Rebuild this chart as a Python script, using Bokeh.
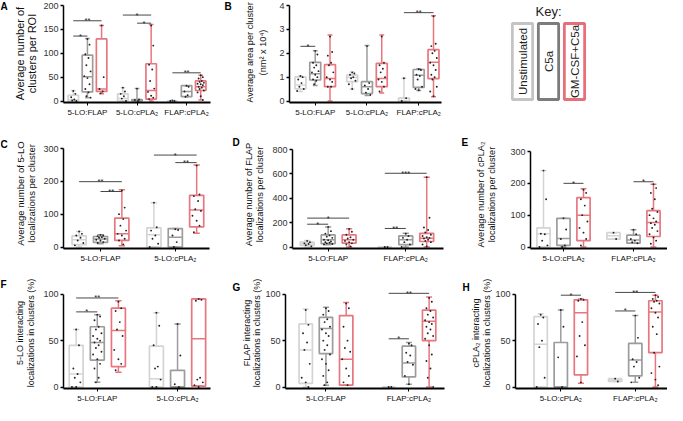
import math
from bokeh.plotting import figure
from bokeh.layouts import row, column
from bokeh.models import FixedTicker, Range1d, FactorRange
from bokeh.core.properties import value
from bokeh.embed import file_html
from bokeh.resources import INLINE

FONT = "Liberation Sans"
CONDITIONS = ["Unstimulated", "C5a", "GM-CSF+C5a"]
BOX_COLORS = ["#d4d4d4", "#9c9c9c", "#e8767f"]
KEY_COLORS = ["#c4c4c4", "#7c7c7c", "#e66f7a"]

# ---------------- Panel A : clusters per ROI ----------------
A_groups = ["5-LO:FLAP", "5-LO:cPLA₂", "FLAP:cPLA₂"]
A_lo = [0, 7, 15, 0, 0, 0, 0, 9, 2]
A_q1 = [0, 19, 20, 0, 0, 4, 0, 9, 22]
A_med = [2, 51, 25, 5, 1, 22, 0, 20, 30]
A_q3 = [12, 96, 130, 15, 3, 78, 0, 32, 42]
A_hi = [22, 131, 158, 28, 26, 160, 1, 32, 54]
A_pts = [[21, 15, 8, 3, 1, 0],
         [130, 118, 98, 90, 75, 62, 52, 48, 35, 25, 18, 10, 7],
         [158, 50, 25, 20, 16],
         [28, 20, 15, 10, 5, 0],
         [26, 3, 2, 0],
         [158, 116, 76, 66, 42, 26, 19, 11, 7, 4],
         [1, 0, 0],
         [32, 30, 20, 12, 9],
         [54, 50, 47, 42, 40, 38, 36, 35, 33, 30, 28, 25, 22, 18, 10, 2]]
A_sig = [(0, 1, 136, "*"), (0, 2, 168, "**"), (3, 5, 180, "*"), (4, 5, 163, "*"), (6, 8, 59, "**")]
A_ticks = [0, 50, 100, 150, 200]
A_title = ["Average number of", "clusters per ROI"]

# ---------------- Panel B : area per cluster ----------------
B_groups = ["5-LO:FLAP", "5-LO:cPLA₂", "FLAP:cPLA₂"]
B_lo = [0.40, 0.65, 0.0, 0.50, 0.23, 0.34, 0.0, 0.44, 0.18]
B_q1 = [0.51, 0.88, 0.60, 0.81, 0.31, 0.60, 0.0, 0.57, 0.94]
B_med = [0.67, 1.14, 0.94, 0.98, 0.60, 0.94, 0.10, 1.08, 1.62]
B_q3 = [1.01, 1.62, 1.52, 1.08, 0.81, 1.58, 0.12, 1.32, 2.15]
B_hi = [1.05, 2.10, 2.76, 1.21, 2.32, 2.76, 0.95, 1.35, 3.57]
B_pts = [[1.05, 1.0, 0.9, 0.75, 0.6, 0.5, 0.42],
         [2.1, 1.95, 1.6, 1.5, 1.4, 1.25, 1.2, 1.1, 1.0, 0.9, 0.85, 0.7],
         [2.7, 2.05, 1.9, 1.6, 1.5, 1.2, 1.0, 0.9, 0.8, 0.6, 0.6],
         [1.2, 1.15, 1.1, 1.0, 0.95, 0.85, 0.7, 0.5],
         [2.3, 0.75, 0.65, 0.5, 0.35, 0.25],
         [2.7, 1.6, 1.5, 1.35, 1.2, 1.0, 0.9, 0.8, 0.6, 0.4],
         [0.95, 0.12, 0.0],
         [1.33, 1.3, 1.1, 1.05, 0.9, 0.6, 0.5, 0.45],
         [3.55, 2.4, 2.3, 2.1, 2.0, 1.8, 1.6, 1.5, 1.3, 1.1, 1.0, 0.9, 0.6, 0.4, 0.2]]
B_sig = [(0, 1, 2.29, "*"), (6, 8, 3.7, "**")]
B_ticks = [0, 1, 2, 3, 4]
B_title = ["Average area per cluster", "(nm² x 10⁴)"]

# ---------------- Panel C : 5-LO localizations ----------------
C_groups = ["5-LO:FLAP", "5-LO:cPLA₂"]
C_lo = [0, 10, 4, 0, 0, 42]
C_q1 = [7, 14, 20, 0, 0, 61]
C_med = [22, 24, 40, 37, 30, 113]
C_q3 = [34, 32, 88, 58, 56, 157]
C_hi = [47, 37, 174, 135, 56, 250]
C_pts = [[47, 40, 35, 28, 20, 12, 5],
         [37, 35, 33, 30, 28, 25, 22, 20, 15, 12],
         [172, 120, 100, 85, 65, 50, 40, 35, 25, 20, 8],
         [135, 60, 50, 35, 25, 10, 0],
         [54, 52, 35, 15, 0],
         [248, 160, 155, 140, 115, 110, 95, 80, 65, 45]]
C_sig = [(0, 2, 199, "**"), (1, 2, 169, "**"), (3, 5, 280, "*"), (4, 5, 257, "**")]
C_ticks = [0, 100, 200, 300]
C_title = ["Average number of 5-LO", "localizations per cluster"]

# ---------------- Panel D : FLAP localizations ----------------
D_groups = ["5-LO:FLAP", "FLAP:cPLA₂"]
D_lo = [0, 19, 0, 0, 0, 0]
D_q1 = [13, 27, 32, 0, 19, 45]
D_med = [24, 59, 59, 0, 59, 72]
D_q3 = [40, 99, 99, 0, 91, 112]
D_hi = [53, 165, 149, 0, 112, 573]
D_pts = [[50, 40, 30, 25, 15, 5],
         [165, 130, 110, 95, 85, 75, 60, 55, 45, 40, 35, 30, 25, 20],
         [148, 125, 100, 80, 70, 60, 50, 40, 30, 20, 5],
         [0, 0],
         [110, 90, 75, 60, 40, 20, 0],
         [573, 240, 160, 140, 120, 100, 90, 80, 75, 70, 60, 50, 40, 20, 5]]
D_sig = [(0, 1, 187, "*"), (0, 2, 237, "*"), (3, 4, 152, "**"), (3, 5, 605, "***")]
D_ticks = [0, 200, 400, 600, 800]
D_title = ["Average number of FLAP", "localizations per cluster"]

# ---------------- Panel E : cPLA2 localizations ----------------
E_groups = ["5-LO:cPLA₂", "FLAP:cPLA₂"]
E_lo = [0, 0, 0, 25, 12, 0]
E_q1 = [0, 5, 20, 25, 12, 33]
E_med = [42, 27, 100, 35, 22, 77]
E_q3 = [60, 90, 155, 45, 37, 114]
E_hi = [240, 90, 183, 45, 54, 197]
E_pts = [[240, 150, 42, 40, 20, 5, 0],
         [90, 55, 25, 5, 0],
         [180, 170, 150, 130, 100, 80, 60, 45, 25, 5],
         [45, 25],
         [54, 40, 25, 20, 15, 12],
         [197, 185, 170, 150, 120, 110, 100, 90, 80, 75, 70, 60, 50, 40, 30, 20, 10]]
E_sig = [(1, 2, 200, "*"), (4, 5, 205, "*")]
E_ticks = [0, 100, 200, 300]
E_title = ["Average number of cPLA₂", "localizations per cluster"]

# ---------------- Panel F : 5-LO interacting (%) ----------------
F_groups = ["5-LO:FLAP", "5-LO:cPLA₂"]
F_lo = [0, 5, 16, 0, 0, 1]
F_q1 = [0, 29, 22, 0, 0, 1]
F_med = [14, 48, 61, 9, 0, 52]
F_q3 = [45, 65, 85, 44, 18, 95]
F_hi = [62, 78, 93, 80, 68, 95]
F_pts = [[62, 45, 20, 14, 10, 5, 0, 0],
         [78, 76, 72, 65, 62, 58, 55, 52, 50, 48, 45, 42, 38, 35, 30, 25, 20, 10, 5],
         [92, 85, 82, 70, 62, 55, 40, 30, 25, 18],
         [80, 66, 45, 22, 20, 8, 0, 0],
         [68, 34, 3, 0],
         [95, 94, 93, 10, 8, 5, 2, 0]]
F_sig = [(0, 1, 81, "*"), (0, 2, 96, "**")]
F_title = ["5-LO interacting", "localizations in clusters (%)"]

# ---------------- Panel G : FLAP interacting (%) ----------------
G_groups = ["5-LO:FLAP", "FLAP:cPLA₂"]
G_lo = [0, 2, 2, 0, 3, 0]
G_q1 = [4, 36, 2, 0, 11, 50]
G_med = [40, 63, 30, 0, 26, 71]
G_q3 = [68, 75, 77, 0, 44, 83]
G_hi = [84, 86, 91, 0, 48, 97]
G_pts = [[83, 67, 58, 48, 40, 25, 10, 5, 0],
         [85, 82, 78, 73, 70, 65, 62, 58, 55, 50, 45, 40, 35, 30, 25, 18, 12, 5, 2],
         [90, 85, 65, 50, 42, 38, 30, 20, 12, 5, 2],
         [0, 0],
         [47, 45, 37, 34, 27, 24, 12, 3],
         [96, 92, 85, 82, 78, 75, 72, 70, 68, 65, 62, 58, 55, 52, 45, 35, 28, 20, 10, 0]]
G_sig = [(3, 4, 52, "*"), (3, 5, 101, "**")]
G_title = ["FLAP interacting", "localizations in clusters (%)"]

# ---------------- Panel H : cPLA2 interacting (%) ----------------
H_groups = ["5-LO:cPLA₂", "FLAP:cPLA₂"]
H_lo = [0, 0, 4, 6, 5, 0]
H_q1 = [0, 0, 13, 6, 12, 37]
H_med = [46, 0, 80, 7.5, 29, 81]
H_q3 = [76, 48, 94, 9, 47, 93]
H_hi = [79, 83, 95, 9, 77, 99]
H_pts = [[78, 75, 68, 50, 43, 10, 0],
         [83, 65, 32, 0],
         [95, 94, 93, 70, 55, 45, 33, 5],
         [9, 6],
         [77, 53, 30, 27, 22, 10, 5],
         [99, 97, 95, 93, 92, 90, 85, 80, 75, 65, 57, 37, 22, 15, 8, 2]]
H_sig = [(1, 2, 99, "*"), (3, 4, 82, "*"), (3, 5, 102, "**")]
H_title = ["cPLA₂ interacting", "localizations in clusters (%)"]
PCT_ticks = [0, 50, 100]

JITTER = [0, 0.2, -0.2, 0.1, -0.1, 0.3, -0.3]
AXIS_AREA = 20   # pixels kept for y ticks + tick labels in the main plot
BP = 1.5         # pixels between the zero line and the bottom of the frame


def make_side(letter, title_lines, lay):
    """Narrow strip carrying the panel letter and the two-line rotated y title."""
    W, H, bb = lay["left"] - AXIS_AREA, lay["h"], lay["bb"]
    fh = H - bb
    s = figure(width=W, height=H, x_range=Range1d(0, W), y_range=Range1d(0, fh),
               x_axis_type=None, y_axis_type=None, output_backend="svg", title=None,
               toolbar_location=None, min_border_left=0, min_border_right=0,
               min_border_top=0, min_border_bottom=bb)
    s.xgrid.visible = False
    s.ygrid.visible = False
    s.outline_line_color = None
    lx, ly = lay["letter"]
    s.text(x=[lx], y=[fh - ly - 5.5], text=[letter], text_baseline="middle", text_align="left",
           text_font=value(FONT), text_font_style="bold", text_font_size="10px",
           text_color="black")
    yc = fh - lay["tc"]
    s.text(x=list(lay["tx"]), y=[yc, yc], text=title_lines, angle=math.pi / 2,
           text_align="center", text_baseline="middle", text_font=value(FONT),
           text_font_size=lay["lfs"], text_color="#111111")
    return s


def make_panel(groups, lo, q1, med, q3, hi, pts, sig, yticks, lay):
    W = lay["w"] - (lay["left"] - AXIS_AREA)
    H, bb = lay["h"], lay["bb"]
    top_px = lay["top"]
    zero_px = H - bb - BP
    ymax = yticks[-1]
    ppu = (zero_px - top_px) / ymax
    y0 = -BP / ppu
    y1 = ymax + top_px / ppu
    gap = lay["gap"]
    bw = lay["bw"]
    pos = [g * gap + j for g in range(len(groups)) for j in range(3)]
    p = figure(width=W, height=H, x_range=Range1d(lay["x0"], lay["x1"]),
               y_range=Range1d(y0, y1), output_backend="svg", toolbar_location=None, title=None,
               min_border_left=AXIS_AREA, min_border_right=lay["right"],
               min_border_top=0, min_border_bottom=bb)
    p.xgrid.visible = False
    p.ygrid.visible = False
    p.outline_line_color = None

    colors = [BOX_COLORS[k % 3] for k in range(len(pos))]
    cw = bw * 0.45
    lw = 1.5
    p.segment(x0=pos, x1=pos, y0=lo, y1=q1, line_color=colors, line_width=lw)
    p.segment(x0=pos, x1=pos, y0=q3, y1=hi, line_color=colors, line_width=lw)
    p.segment(x0=[x - cw / 2 for x in pos], x1=[x + cw / 2 for x in pos], y0=hi, y1=hi,
              line_color=colors, line_width=lw)
    p.segment(x0=[x - cw / 2 for x in pos], x1=[x + cw / 2 for x in pos], y0=lo, y1=lo,
              line_color=colors, line_width=lw)
    p.vbar(x=pos, width=bw, bottom=q1, top=q3, fill_alpha=0, line_color=colors, line_width=1.7)
    p.segment(x0=[x - bw / 2 for x in pos], x1=[x + bw / 2 for x in pos], y0=med, y1=med,
              line_color=colors, line_width=1.5)

    px, py = [], []
    for k, vals in enumerate(pts):
        for i, v in enumerate(vals):
            px.append(pos[k] + JITTER[i % len(JITTER)] * bw)
            py.append(v)
    p.scatter(px, py, size=1.9, fill_color="#222222", line_color=None)

    sx0 = [pos[s[0]] for s in sig]
    sx1 = [pos[s[1]] for s in sig]
    sy = [s[2] for s in sig]
    st = [s[3] for s in sig]
    p.segment(x0=sx0, x1=sx1, y0=sy, y1=sy, line_color="#333333", line_width=0.9)
    p.text(x=[(a + b) / 2 for a, b in zip(sx0, sx1)], y=sy, text=st, text_align="center",
           text_baseline="alphabetic", text_font=value(FONT), text_font_size="7.5px",
           text_color="#222222")

    ya = p.yaxis[0]
    ya.ticker = FixedTicker(ticks=yticks)
    ya.bounds = (y0, ymax)
    ya.minor_tick_line_color = None
    ya.major_tick_in = 0
    ya.major_tick_out = 3
    ya.axis_line_width = 1.5
    ya.axis_line_color = "black"
    ya.major_tick_line_width = 1.3
    ya.major_label_text_font = FONT
    ya.major_label_text_font_size = "9px"
    ya.major_label_text_color = "#333333"
    ya.major_label_standoff = 2

    centers = [g * gap + 1 for g in range(len(groups))]
    xa = p.xaxis[0]
    xa.ticker = FixedTicker(ticks=centers)
    xa.major_label_overrides = {c: name for c, name in zip(centers, groups)}
    xa.minor_tick_line_color = None
    xa.major_tick_in = 0
    xa.major_tick_out = 3
    xa.axis_line_width = 2
    xa.axis_line_color = "black"
    xa.major_label_text_font = FONT
    xa.major_label_text_font_size = "8px"
    xa.major_label_text_color = "#111111"
    xa.major_label_standoff = 2
    return p


LAY = {
    "A": dict(w=222, h=129, bb=27, left=60, right=12, top=5, gap=3.5, x0=-0.69, x1=9.69,
              bw=0.74, lfs="11px", letter=(0, 0), tx=(19, 31), tc=53),
    "B": dict(w=227, h=129, bb=27, left=67, right=8, top=5, gap=3.5, x0=-0.74, x1=9.54,
              bw=0.74, lfs="9.2px", letter=(2, 0), tx=(27, 40), tc=52),
    "C": dict(w=223, h=136, bb=17, left=60, right=14, top=19, gap=3.5, x0=-0.73, x1=6.1,
              bw=0.66, lfs="9.5px", letter=(0, 9), tx=(19.5, 30.5), tc=64),
    "D": dict(w=224, h=136, bb=17, left=66, right=4, top=20, gap=3.7, x0=-0.7, x1=6.5,
              bw=0.66, lfs="9.2px", letter=(9, 7), tx=(25, 36), tc=65),
    "E": dict(w=220, h=136, bb=17, left=80, right=0, top=22, gap=3.5, x0=-0.65, x1=6.2,
              bw=0.66, lfs="9.2px", letter=(14, 7), tx=(33, 44), tc=65),
    "F": dict(w=222, h=140, bb=16, left=60, right=12, top=29, gap=3.8, x0=-0.6, x1=6.36,
              bw=0.66, lfs="9px", letter=(0, 14), tx=(19, 30), tc=68),
    "G": dict(w=226, h=140, bb=16, left=60, right=4, top=29, gap=4.1, x0=-1.0, x1=6.86,
              bw=0.66, lfs="9px", letter=(10, 17), tx=(24, 34.5), tc=68),
    "H": dict(w=219, h=140, bb=16, left=64, right=0, top=29, gap=3.7, x0=-1.25, x1=6.3,
              bw=0.66, lfs="9px", letter=(14, 17), tx=(27, 38), tc=68),
}

sA = make_side("A", A_title, LAY["A"])
pA = make_panel(A_groups, A_lo, A_q1, A_med, A_q3, A_hi, A_pts, A_sig, A_ticks, LAY["A"])
sB = make_side("B", B_title, LAY["B"])
pB = make_panel(B_groups, B_lo, B_q1, B_med, B_q3, B_hi, B_pts, B_sig, B_ticks, LAY["B"])
sC = make_side("C", C_title, LAY["C"])
pC = make_panel(C_groups, C_lo, C_q1, C_med, C_q3, C_hi, C_pts, C_sig, C_ticks, LAY["C"])
sD = make_side("D", D_title, LAY["D"])
pD = make_panel(D_groups, D_lo, D_q1, D_med, D_q3, D_hi, D_pts, D_sig, D_ticks, LAY["D"])
sE = make_side("E", E_title, LAY["E"])
pE = make_panel(E_groups, E_lo, E_q1, E_med, E_q3, E_hi, E_pts, E_sig, E_ticks, LAY["E"])
sF = make_side("F", F_title, LAY["F"])
pF = make_panel(F_groups, F_lo, F_q1, F_med, F_q3, F_hi, F_pts, F_sig, PCT_ticks, LAY["F"])
sG = make_side("G", G_title, LAY["G"])
pG = make_panel(G_groups, G_lo, G_q1, G_med, G_q3, G_hi, G_pts, G_sig, PCT_ticks, LAY["G"])
sH = make_side("H", H_title, LAY["H"])
pH = make_panel(H_groups, H_lo, H_q1, H_med, H_q3, H_hi, H_pts, H_sig, PCT_ticks, LAY["H"])

# ---------------- Key (same frame rows as panels A/B) ----------------
KEY_H, KEY_BB = 129, 27
KEY_FH = KEY_H - KEY_BB
pK = figure(width=218, height=KEY_H, x_range=FactorRange(factors=CONDITIONS),
            y_range=Range1d(0, KEY_FH), output_backend="svg", toolbar_location=None, title=None,
            x_axis_type=None, y_axis_type=None,
            min_border_left=60, min_border_right=80, min_border_top=0, min_border_bottom=KEY_BB)
pK.xgrid.visible = False
pK.ygrid.visible = False
pK.outline_line_color = None
box_top, box_bot = 23, 99          # key boxes, pixels from the top of the panel
pK.rect(x=CONDITIONS, y=[KEY_FH - (box_top + box_bot) / 2] * 3, width=0.78,
        height=box_bot - box_top, fill_color="white", line_color=KEY_COLORS, line_width=2.8)
pK.text(x=CONDITIONS, y=[KEY_FH - (box_top + box_bot) / 2] * 3, text=CONDITIONS,
        angle=math.pi / 2, text_align="center", text_baseline="middle", text_font=value(FONT),
        text_font_size="11.5px", text_color="#222222")
pK.text(x=[CONDITIONS[1]], y=[KEY_FH - 11], text=["Key:"], text_align="center",
        text_baseline="middle", text_font=value(FONT), text_font_size="13px",
        text_color="#222222")

layout = column(row(sA, pA, sB, pB, pK), row(sC, pC, sD, pD, sE, pE),
                row(sF, pF, sG, pG, sH, pH))

open("out.html", "w").write(file_html(layout, INLINE))
